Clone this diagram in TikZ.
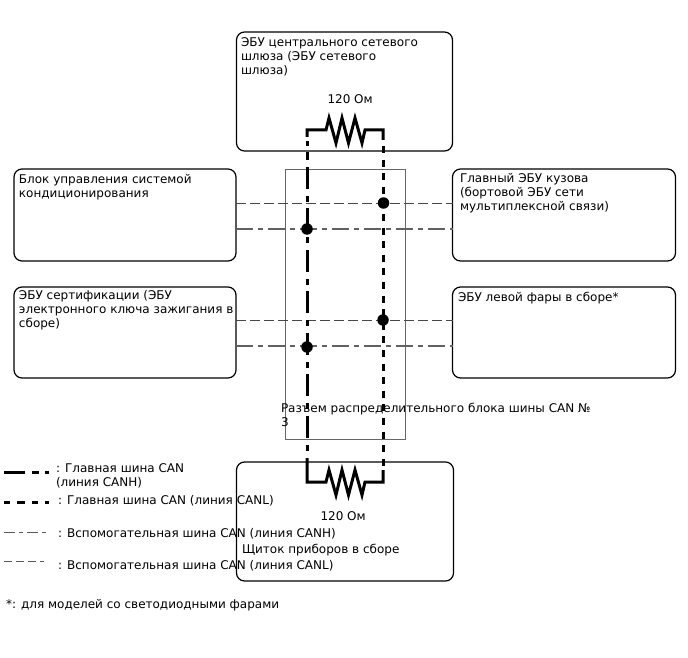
\documentclass[tikz,border=0pt]{standalone}
\usepackage{fontspec}
\setmainfont{DejaVu Sans}
\tikzset{
  ecu/.style={draw=black,line width=1.2pt,rounded corners=8pt,inner sep=0pt,outer sep=0pt,anchor=north west},
  splice/.style={draw=black!60,line width=1pt,inner sep=0pt,outer sep=0pt,anchor=north west},
  caption/.style={inner sep=0pt,outer sep=0pt,anchor=north west,align=left,font=\fontsize{12}{14}\selectfont},
  joint/.style={circle,fill=black,inner sep=0pt,minimum size=11.5pt},
  mainwire/.style={line width=3pt,black},
  rwire/.style={line width=3pt,black,line join=miter},
  canhmain/.style={mainwire,dash pattern=on 22pt off 7pt on 6pt off 6.5pt},
  canlmain/.style={mainwire,dash pattern=on 7pt off 6.6pt},
  canhsub/.style={line width=1.15pt,black!62,dash pattern=on 17pt off 5pt on 5pt off 5pt},
  canlsub/.style={line width=1pt,black!72,dash pattern=on 9.5pt off 4.5pt},
}
\begin{document}
\begin{tikzpicture}[x=1pt,y=-1pt]
\useasboundingbox (0,0) rectangle (688,658);
% ECU outlines
\node[ecu,minimum width=216pt,minimum height=119pt] (gw) at (236.5,32) {};
\node[ecu,minimum width=222pt,minimum height=92pt] (hvac) at (14,169) {};
\node[ecu,minimum width=223pt,minimum height=92pt] (body) at (452.5,169) {};
\node[ecu,minimum width=222pt,minimum height=91pt] (cert) at (14,287) {};
\node[ecu,minimum width=223pt,minimum height=91pt] (lamp) at (452.5,287) {};
\node[ecu,minimum width=217pt,minimum height=119pt] (meter) at (236.5,462) {};
% Junction connector outline
\node[splice,minimum width=120pt,minimum height=270pt] (jc) at (285,169) {};
% Sub bus branches
\draw[canlsub] (hvac.east |- 0,203.5) -- (body.west |- 0,203.5);
\draw[canhsub] (hvac.east |- 0,229) -- (body.west |- 0,229);
\draw[canlsub] (cert.east |- 0,320.5) -- (lamp.west |- 0,320.5);
\draw[canhsub] (cert.east |- 0,346) -- (lamp.west |- 0,346);
% Main bus: upper terminating resistor
\coordinate (hTop) at (307,130);
\coordinate (lTop) at (383,130);
\coordinate (hBot) at (307,482);
\coordinate (lBot) at (383,482);
\draw[rwire] (307,137) -- (hTop) -- (326,130) -- (329,118) -- (336,143) -- (342,118) -- (348.5,143) -- (355,118) -- (362,143) -- (365,130) -- (lTop) -- (383,140);
% Main bus: lower terminating resistor
\draw[rwire] (307,458) -- (hBot) -- (326,482) -- (329,470) -- (336,495) -- (342,470) -- (348.5,495) -- (355,470) -- (362,495) -- (365,482) -- (lBot) -- (383,470);
% Main bus: CANH and CANL runs
\draw[mainwire] (307,141) -- (307,146) (307,152) -- (307,160);
\draw[canhmain] (307,166.5) -- (307,452);
\draw[canlmain] (383,146) -- (383,466);
% Joints
\node[joint] (j1) at (383.5,203) {};
\node[joint] (j2) at (307,229) {};
\node[joint] (j3) at (383,320) {};
\node[joint] (j4) at (307,347) {};
% Captions
\node[caption] (tGw) at (241,37.5) {ЭБУ центрального сетевого\\шлюза (ЭБУ сетевого\\шлюза)};
\node[caption] (rGw) at (327.5,95) {120 Ом};
\node[caption] (tHvac) at (19,174) {Блок управления системой\\кондиционирования};
\node[caption] (tBody) at (460,173) {Главный ЭБУ кузова\\(бортовой ЭБУ сети\\мультиплексной связи)};
\node[caption] (tCert) at (19,290) {ЭБУ сертификации (ЭБУ\\электронного ключа зажигания в\\сборе)};
\node[caption] (tLamp) at (458,292) {ЭБУ левой фары в сборе*};
\node[caption] (tJc) at (281,403) {Разъем распределительного блока шины CAN №\\3};
\node[caption] (rMeter) at (320.5,512) {120 Ом};
\node[caption] (tMeter) at (242,544) {Щиток приборов в сборе};
% Line key
\coordinate (k1) at (4,472); \coordinate (k1e) at (25,472);
\coordinate (k2) at (4,502); \coordinate (k2e) at (49,502);
\coordinate (k3) at (4,532.5); \coordinate (k3e) at (48,532.5);
\coordinate (k4) at (4,561.5); \coordinate (k4e) at (44,561.5);
\draw[mainwire] (k1) -- (k1e);
\draw[mainwire] (32,472) -- (39,472) (45,472) -- (49,472);
\draw[mainwire,dash pattern=on 6pt off 7pt on 8pt off 7pt] (k2) -- (k2e);
\draw[line width=1.1pt,black!65,dash pattern=on 11pt off 4pt on 4pt off 4pt] (k3) -- (k3e);
\draw[line width=1.1pt,black!65,dash pattern=on 8pt off 4pt] (k4) -- (k4e);
\node[caption] (lk1) at (56,464) {: Главная шина CAN\\(линия CANH)};
\node[caption] (lk2) at (58,495) {: Главная шина CAN (линия CANL)};
\node[caption] (lk3) at (58,528) {: Вспомогательная шина CAN (линия CANH)};
\node[caption] (lk4) at (58,560) {: Вспомогательная шина CAN (линия CANL)};
\node[caption] (note) at (6,599) {*: для моделей со светодиодными фарами};
\end{tikzpicture}
\end{document}
